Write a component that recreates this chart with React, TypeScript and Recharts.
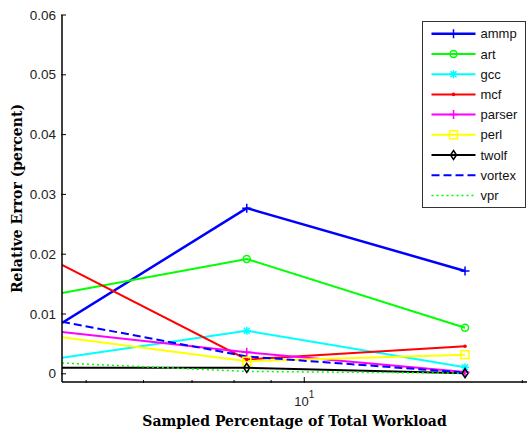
import React from "react";
import { LineChart, Line, XAxis, YAxis, Label } from "recharts";

// sampled percentage (log axis); first point sits on the left edge of the axis
const sampledPercent = [4.63, 8.33, 16.67];

const ammp = [0.0085, 0.0277, 0.0172];
const art = [0.0135, 0.0192, 0.0077];
const gcc = [0.0027, 0.0072, 0.0011];
const mcf = [0.0182, 0.0024, 0.0046];
const parser = [0.007, 0.0036, 0.0003];
const perl = [0.0061, 0.0021, 0.0032];
const twolf = [0.001, 0.001, 0.0001];
const vortex = [0.0087, 0.0029, 0.0002];
const vpr = [0.0018, 0.0004, 0.0001];

const xTicks = [5, 6, 7, 8, 9, 10, 20];
const yTicks = [0, 0.01, 0.02, 0.03, 0.04, 0.05, 0.06];

type MarkerKind = "plus" | "circle" | "star" | "dot" | "square" | "diamond" | "none";

interface Serie {
  key: string;
  name: string;
  values: number[];
  color: string;
  marker: MarkerKind;
  dash?: string;
  width: number;
}

const series: Serie[] = [
  { key: "ammp", name: "ammp", values: ammp, color: "#0000ff", marker: "plus", width: 2.5 },
  { key: "art", name: "art", values: art, color: "#00ff00", marker: "circle", width: 2 },
  { key: "gcc", name: "gcc", values: gcc, color: "#00ffff", marker: "star", width: 2 },
  { key: "mcf", name: "mcf", values: mcf, color: "#ff0000", marker: "dot", width: 2 },
  { key: "parser", name: "parser", values: parser, color: "#ff00ff", marker: "plus", width: 2 },
  { key: "perl", name: "perl", values: perl, color: "#ffff00", marker: "square", width: 2 },
  { key: "twolf", name: "twolf", values: twolf, color: "#000000", marker: "diamond", width: 2 },
  { key: "vortex", name: "vortex", values: vortex, color: "#0000ff", marker: "none", dash: "8 4", width: 2 },
  { key: "vpr", name: "vpr", values: vpr, color: "#00ff00", marker: "none", dash: "2 3", width: 1.5 },
];

const dados = sampledPercent.map((x, i) => {
  const row: Record<string, number> = { x };
  series.forEach((s) => (row[s.key] = s.values[i]));
  return row;
});

function Marcador({ kind, cx, cy, color }: { kind: MarkerKind; cx: number; cy: number; color: string }) {
  const sw = 1.5;
  switch (kind) {
    case "plus":
      return <path d={`M${cx - 4.5},${cy}H${cx + 4.5}M${cx},${cy - 4.5}V${cy + 4.5}`} stroke={color} strokeWidth={sw} fill="none" />;
    case "circle":
      return <circle cx={cx} cy={cy} r={3.5} stroke={color} strokeWidth={sw} fill="none" />;
    case "star":
      return (
        <path
          d={`M${cx - 4},${cy}H${cx + 4}M${cx},${cy - 4}V${cy + 4}M${cx - 3},${cy - 3}L${cx + 3},${cy + 3}M${cx - 3},${cy + 3}L${cx + 3},${cy - 3}`}
          stroke={color} strokeWidth={sw} fill="none"
        />
      );
    case "dot":
      return <circle cx={cx} cy={cy} r={1.8} fill={color} />;
    case "square":
      return <rect x={cx - 4} y={cy - 4} width={8} height={8} stroke={color} strokeWidth={sw} fill="none" />;
    case "diamond":
      return <path d={`M${cx},${cy - 4.5}L${cx + 3},${cy}L${cx},${cy + 4.5}L${cx - 3},${cy}Z`} stroke={color} strokeWidth={sw} fill="none" />;
    default:
      return null;
  }
}

function criarPonto(s: Serie) {
  return (props: any) => {
    const { cx, cy, index } = props;
    if (index === 0 || cx == null || cy == null || s.marker === "none") return <g key={`${s.key}-d-${index}`} />;
    return (
      <g key={`${s.key}-d-${index}`}>
        <Marcador kind={s.marker} cx={cx} cy={cy} color={s.color} />
      </g>
    );
  };
}

function TickX(props: any) {
  const { x, y, payload } = props;
  const major = payload.value === 10;
  return (
    <g>
      <line x1={x} x2={x} y1={y} y2={y - (major ? 6 : 3)} stroke="#000" strokeWidth={1} />
      {major && (
        <text x={x} y={y + 23} textAnchor="middle" fontFamily="Liberation Sans, Arial, sans-serif" fontSize={13} fill="#222">
          10<tspan dy={-8} fontSize={10}>1</tspan>
        </text>
      )}
    </g>
  );
}

function TickY(props: any) {
  const { x, y, payload } = props;
  const v = payload.value as number;
  return (
    <g>
      <line x1={x} x2={x + 5} y1={y} y2={y} stroke="#000" strokeWidth={1} />
      <text x={x - 5} y={y} textAnchor="end" dominantBaseline="central" fontFamily="Liberation Sans, Arial, sans-serif" fontSize={13.5} fill="#222">
        {v === 0 ? "0" : v.toFixed(2)}
      </text>
    </g>
  );
}

function TituloY(props: any) {
  const { viewBox } = props;
  const cx = viewBox.x + viewBox.width - 45;
  const cy = viewBox.y + viewBox.height / 2;
  return (
    <text
      x={cx} y={cy} transform={`rotate(-90, ${cx}, ${cy})`} textAnchor="middle" dominantBaseline="central"
      fontFamily="DejaVu Serif, serif" fontWeight="bold" fontSize={14} fill="#000"
    >
      Relative Error (percent)
    </text>
  );
}

function Legenda() {
  const top = 21;
  const row = 20.2;
  return (
    <svg width={104} height={188} style={{ position: "absolute", left: 421.5, top: top - 0.5 }}>
      <rect x={0.5} y={0.5} width={103} height={186} fill="#fff" stroke="#333" strokeWidth={1} />
      {series.map((s, i) => {
        const cy = 12.8 + i * row;
        return (
          <g key={s.key}>
            <line x1={9.5} x2={53.5} y1={cy} y2={cy} stroke={s.color} strokeWidth={s.width} strokeDasharray={s.dash} />
            <Marcador kind={s.marker} cx={31.5} cy={cy} color={s.color} />
            <text x={58.5} y={cy} dominantBaseline="central" fontFamily="Liberation Sans, Arial, sans-serif" fontSize={13} fill="#111">
              {s.name}
            </text>
          </g>
        );
      })}
    </svg>
  );
}

export default function App() {
  return (
    <div style={{ position: "absolute", left: 0, top: 0, width: 530, height: 431, background: "#fff" }}>
      <LineChart width={530} height={431} data={dados} margin={{ top: 15, right: 3, left: 61, bottom: 48 }}>
        <XAxis
          dataKey="x"
          type="number"
          scale="log"
          domain={[4.63, 20.3]}
          allowDataOverflow
          ticks={xTicks}
          interval={0}
          height={1}
          tickSize={1}
          tickMargin={0}
          tick={<TickX />}
          axisLine={{ stroke: "#000", strokeWidth: 1.5 }}
          tickLine={false}
        >
          <Label
            value="Sampled Percentage of Total Workload"
            position="bottom"
            offset={33}
            style={{ fontFamily: "DejaVu Serif, serif", fontWeight: "bold", fontSize: 14, fill: "#000" }}
          />
        </XAxis>
        <YAxis
          type="number"
          domain={[-0.00137, 0.06]}
          allowDataOverflow
          ticks={yTicks}
          interval={0}
          width={1}
          tickSize={1}
          tickMargin={0}
          tick={<TickY />}
          axisLine={{ stroke: "#000", strokeWidth: 1.5 }}
          tickLine={false}
          label={<TituloY />}
        />
        {series.map((s) => (
          <Line
            key={s.key}
            dataKey={s.key}
            name={s.name}
            type="linear"
            stroke={s.color}
            strokeWidth={s.width}
            strokeDasharray={s.dash}
            dot={criarPonto(s)}
            activeDot={false}
            isAnimationActive={false}
          />
        ))}
      </LineChart>
      <Legenda />
    </div>
  );
}
